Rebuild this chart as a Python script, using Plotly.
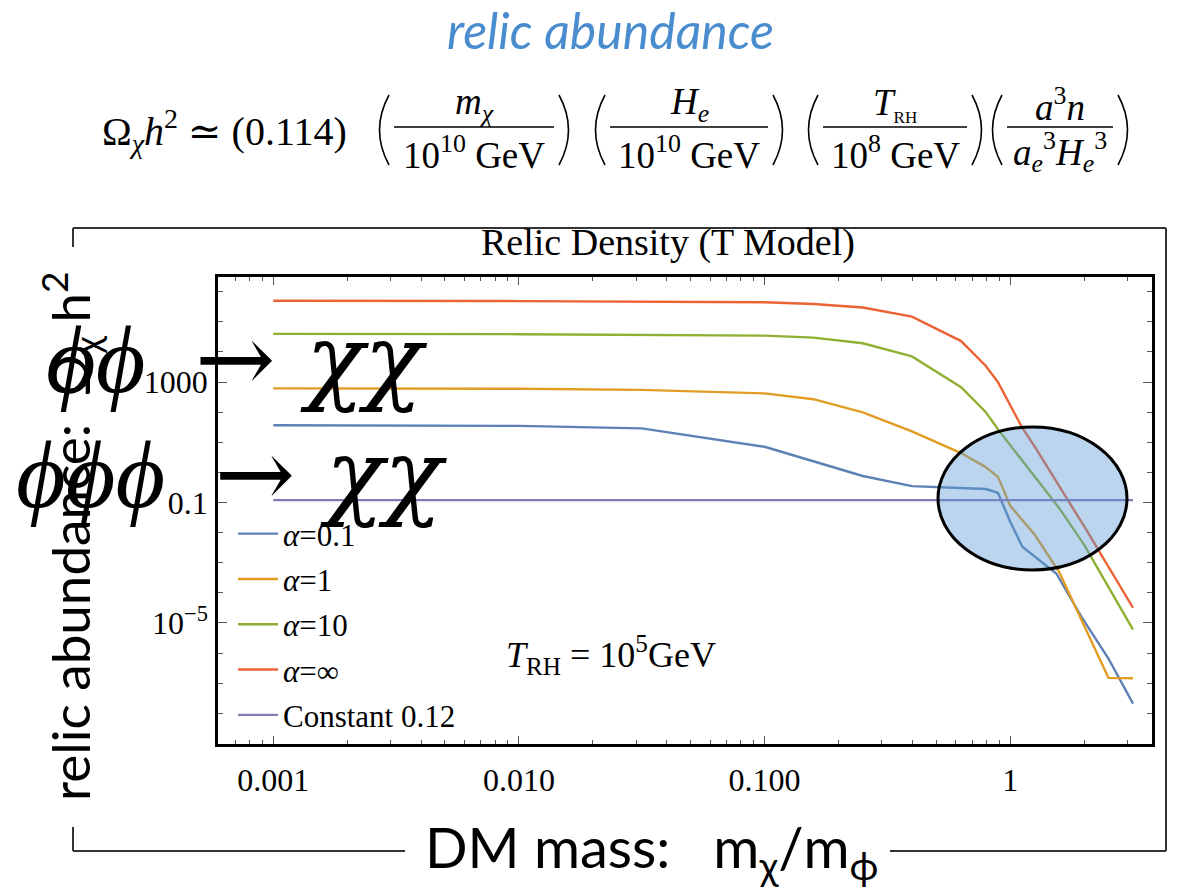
import plotly.graph_objects as go

# ---------------- data ----------------
x_a01 = [0.001, 0.01, 0.0316, 0.1, 0.251, 0.398, 0.794, 0.891, 1.0, 1.12, 1.54, 1.95, 2.51, 3.16]
y_a01 = [37, 35, 29, 7.1, 0.76, 0.35, 0.28, 0.21, 0.023, 0.0034, 4.4e-4, 1.6e-5, 6.6e-7, 2.1e-8]

x_a1 = [0.001, 0.01, 0.0316, 0.1, 0.158, 0.251, 0.398, 0.631, 0.794, 0.891, 1.0, 1.26, 1.58, 2.51, 3.16]
y_a1 = [620, 600, 550, 420, 270, 98, 23, 4.4, 1.5, 0.71, 0.078, 0.0083, 5.0e-4, 1.5e-7, 1.45e-7]

x_a10 = [0.001, 0.01, 0.1, 0.158, 0.251, 0.398, 0.631, 0.794, 0.891, 1.58, 2.0, 2.51, 3.16]
y_a10 = [4.0e4, 3.9e4, 3.5e4, 3.0e4, 1.95e4, 7.1e3, 680, 102, 27, 0.066, 0.0039, 1.6e-4, 6.0e-6]

x_ainf = [0.001, 0.01, 0.1, 0.158, 0.251, 0.398, 0.631, 0.794, 0.891, 1.12, 1.26, 2.0, 3.16]
y_ainf = [5.0e5, 4.9e5, 4.5e5, 3.9e5, 3.0e5, 1.5e5, 2.3e4, 3.5e3, 1.0e3, 30, 7.1, 0.016, 3.2e-5]

x_const = [0.001, 3.16]
y_const = [0.12, 0.12]

series_names = ["<i>α</i>=0.1", "<i>α</i>=1", "<i>α</i>=10", "<i>α</i>=∞", "Constant 0.12"]
series_colors = ["#5E81B5", "#E19C24", "#8FB032", "#EB6235", "#8778B3"]

x_tickvals = [0.001, 0.01, 0.1, 1]
x_ticktext = ["0.001", "0.010", "0.100", "1"]
y_tickvals = [1e-5, 0.1, 1000]
y_ticktext = ["10<sup>−5</sup>", "0.1", "1000"]

# ---------------- layout helpers ----------------
W, H = 1178, 893
L, R, T, B = 218, 1152, 277, 744


def PX(x):
    return (x - L) / (R - L)


def PY(y):
    return (B - y) / (B - T)


SERIF = "Liberation Serif, DejaVu Serif, serif"
MATH = "DejaVu Serif, Liberation Serif, serif"
SANS = "Lato, Open Sans, sans-serif"

fig = go.Figure()
all_x = [x_a01, x_a1, x_a10, x_ainf, x_const]
all_y = [y_a01, y_a1, y_a10, y_ainf, y_const]
for i, (xs, ys) in enumerate(zip(all_x, all_y)):
    fig.add_trace(go.Scatter(
        x=xs, y=ys, mode="lines", name=series_names[i],
        legendgroup=f"g{i}",
        line=dict(color=series_colors[i], width=2.4),
    ))

annotations = []


def ann(text, x, y, size, family=SERIF, color="black", xanchor="center",
        yanchor="middle", angle=0):
    annotations.append(dict(
        text=text, x=PX(x), y=PY(y), xref="paper", yref="paper",
        showarrow=False, xanchor=xanchor, yanchor=yanchor, textangle=angle,
        font=dict(family=family, size=size, color=color),
    ))


# slide title
ann("<i>relic abundance</i>", 610, 30, 50, family=SANS, color="#4A8DCF")

# formula
ann("Ω<sub><i>χ</i></sub><i>h</i><sup>2</sup> ≃ (0.114)", 100, 131, 40, xanchor="left")
fracs = [
    ("<i>m</i><sub><i>χ</i></sub>", "10<sup>10</sup> GeV", 394, 554),
    ("<i>H</i><sub><i>e</i></sub>", "10<sup>10</sup> GeV", 610, 768),
    ("<i>T</i><sub><span style='font-size:17px'>RH</span></sub>", "10<sup>8</sup> GeV", 823, 967),
    ("<i>a</i><sup>3</sup><i>n</i>",
     "<i>a</i><sub><i>e</i></sub><sup>3</sup><i>H</i><sub><i>e</i></sub><sup>3</sup>", 1007, 1113),
]
shapes = []
for num, den, a, b in fracs:
    c = (a + b) / 2
    ann(num, c, 104, 37)
    ann(den, c, 152, 37)
    shapes.append(dict(type="line", xref="paper", yref="paper",
                       x0=PX(a), x1=PX(b), y0=PY(127), y1=PY(127),
                       line=dict(color="black", width=1.3)))
    for xt, xb in ((a - 5, a - 24), (b + 5, b + 24)):
        shapes.append(dict(
            type="path", xref="paper", yref="paper",
            path=f"M {PX(xt)},{PY(95)} Q {PX(xb)},{PY(130)} {PX(xt)},{PY(165)}",
            line=dict(color="black", width=1.6)))

# Mathematica plot label
ann("Relic Density (T Model)", 668, 243, 38)

# T_RH annotation
ann("<i>T</i><sub>RH</sub> = 10<sup>5</sup>GeV", 611, 655, 36)

# big process labels
PHI = "<span style='font-family:Liberation Serif'><i>{}</i></span>"
ann(PHI.format("ϕϕ") + "\u2009 → <i>χχ</i>", 236, 359, 96, family=MATH)
ann(PHI.format("ϕϕϕ") + "\u2009 → <i>χχ</i>", 231, 474, 96, family=MATH)

# slide axis labels
ann("relic abundance:  Ω<sub>χ</sub> h<sup>2</sup>", 70, 537, 53, family=SANS, angle=-90)
ann("DM mass:   m<sub>χ</sub>/m<sub>ϕ</sub>", 651, 850, 56, family=SANS)

# bracket frame of the slide
frame_col = "#333333"
for x0, y0, x1, y1 in [
    (73, 228, 1166, 228), (73, 228, 73, 247), (1166, 228, 1166, 851),
    (890, 851, 1166, 851), (73, 851, 405, 851), (73, 827, 73, 851),
]:
    shapes.append(dict(type="line", xref="paper", yref="paper",
                       x0=PX(x0), x1=PX(x1), y0=PY(y0), y1=PY(y1),
                       line=dict(color=frame_col, width=2)))

# highlighted ellipse
shapes.append(dict(type="circle", xref="paper", yref="paper",
                   x0=PX(938), x1=PX(1127), y0=PY(570), y1=PY(427),
                   fillcolor="rgba(91,155,213,0.42)",
                   line=dict(color="black", width=3), layer="above"))

fig.update_layout(
    width=W, height=H,
    margin=dict(l=L, r=W - R, t=T, b=H - B),
    paper_bgcolor="white", plot_bgcolor="white",
    annotations=annotations, shapes=shapes,
    showlegend=True,
    legend=dict(x=PX(233), y=PY(507), xanchor="left", yanchor="top",
                bgcolor="rgba(0,0,0,0)", font=dict(family=SERIF, size=31, color="black"),
                traceorder="grouped", tracegroupgap=2, itemwidth=40),
    xaxis=dict(type="log", range=[-3.225, 0.577], showgrid=False, zeroline=False,
               showline=True, linecolor="black", linewidth=2.5, mirror="ticks",
               ticks="inside", ticklen=8, tickwidth=1.3, tickcolor="#555",
               tickmode="array", tickvals=x_tickvals, ticktext=x_ticktext,
               tickfont=dict(family=SERIF, size=32, color="black"),
               ticklabelstandoff=6,
               minor=dict(ticks="inside", ticklen=4, tickwidth=1.2, tickcolor="#555",
                          dtick="D1", showgrid=False)),
    yaxis=dict(type="log", range=[-9.02, 6.49], showgrid=False, zeroline=False,
               showline=True, linecolor="black", linewidth=2.5, mirror="ticks",
               ticks="inside", ticklen=9, tickwidth=1.3, tickcolor="#555",
               tickmode="array", tickvals=y_tickvals, ticktext=y_ticktext,
               tickfont=dict(family=SERIF, size=32, color="black"),
               ticklabelstandoff=1,
               minor=dict(ticks="inside", ticklen=5, tickwidth=1.2, tickcolor="#555",
                          dtick=1, showgrid=False)),
)

fig.write_html("out.html")
